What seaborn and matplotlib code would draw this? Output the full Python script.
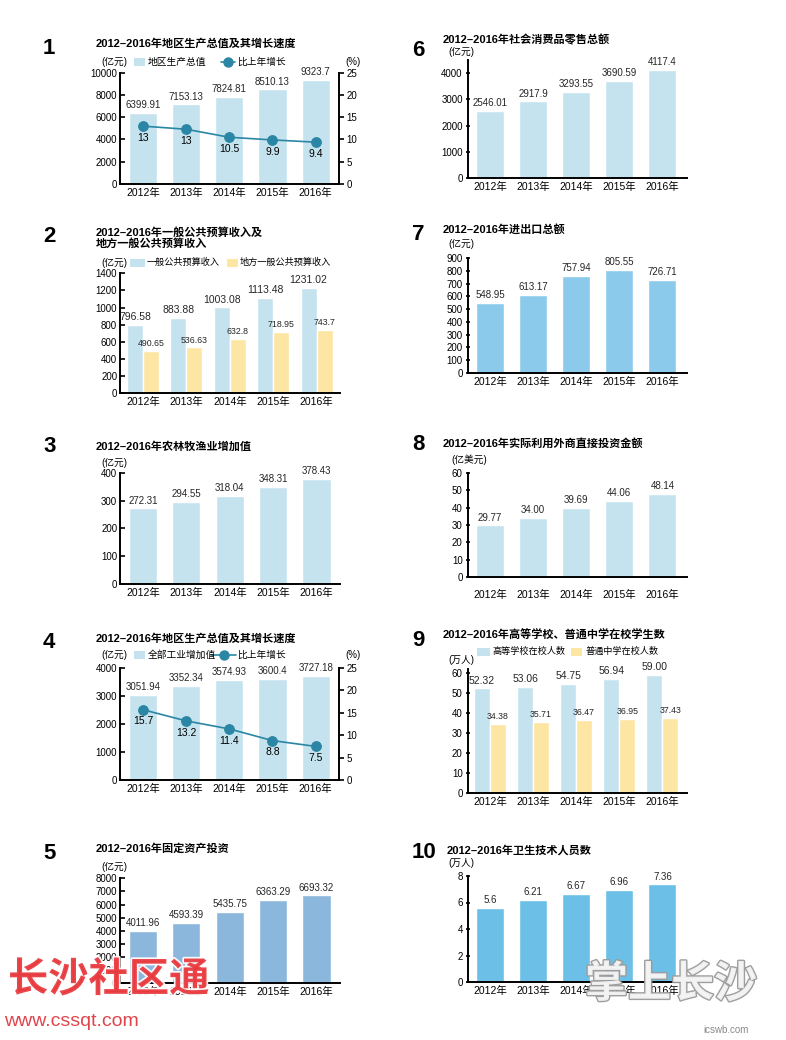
import matplotlib
matplotlib.use('Agg')
import matplotlib.pyplot as plt
import seaborn as sns
import pandas as pd
import numpy as np
from matplotlib.patches import Rectangle
from matplotlib.lines import Line2D
import matplotlib.patheffects as pe

sns.set_theme(style='white')
FAM = ['Liberation Sans', 'Noto Sans CJK SC', 'DejaVu Sans']
plt.rcParams['font.family'] = FAM
plt.rcParams['axes.unicode_minus'] = False

# ---------------- data ----------------
years = ["2012年", "2013年", "2014年", "2015年", "2016年"]
gdp = [6399.91, 7153.13, 7824.81, 8510.13, 9323.7]
gdp_growth = [13.0, 12.3, 10.5, 9.9, 9.4]
gdp_growth_labels = ["13", "13", "10.5", "9.9", "9.4"]
budget_total = [796.58, 883.88, 1003.08, 1113.48, 1231.02]
budget_local = [490.65, 536.63, 632.8, 718.95, 743.7]
agri = [272.31, 294.55, 318.04, 348.31, 378.43]
industry = [3051.94, 3352.34, 3574.93, 3600.4, 3727.18]
industry_growth = [15.7, 13.2, 11.4, 8.8, 7.5]
fixed_invest = [4011.96, 4593.39, 5435.75, 6363.29, 6693.32]
retail = [2546.01, 2917.9, 3293.55, 3690.59, 4117.4]
trade = [548.95, 613.17, 757.94, 805.55, 726.71]
fdi = [29.77, 34.00, 39.69, 44.06, 48.14]
college = [52.32, 53.06, 54.75, 56.94, 59.00]
middle = [34.38, 35.71, 36.47, 36.95, 37.43]
health = [5.6, 6.21, 6.67, 6.96, 7.36]

LIGHT = '#c5e3ee'
YELLOW = '#fde6a4'
LINE = '#2a86a4'
BLUE5 = '#8cb7dd'
BLUE7 = '#8bcaea'
BLUE10 = '#6cc0e7'

W, H = 786, 1040
fig = plt.figure(figsize=(W / 100, H / 100), dpi=100)
fig.patch.set_facecolor('white')


def fx(x):
    return x / W


def fy(y):
    return 1 - y / H


def make_ax(x0, x1, ytop, ybot):
    return fig.add_axes([fx(x0), fy(ybot), (x1 - x0) / W, (ybot - ytop) / H])


def style(ax, ylim, yticks, xlim, ydir='in', xpad=2.5):
    ax.set_ylim(*ylim)
    ax.set_yticks(yticks)
    ax.set_xlim(*xlim)
    for s in ['top', 'right']:
        ax.spines[s].set_visible(False)
    for s in ['left', 'bottom']:
        ax.spines[s].set_color('black')
        ax.spines[s].set_linewidth(1.4)
    ax.tick_params(axis='y', direction=ydir, length=3.5, width=1.2, labelsize=7,
                   pad=2, colors='black', left=True)
    ax.tick_params(axis='x', length=0, labelsize=7.5, pad=xpad, colors='black')
    ax.set_xlabel('')
    ax.set_ylabel('')
    ax.grid(False)
    ax.patch.set_alpha(0)


def ftext(x, y, s, size, ha='left', va='center', weight='normal', **kw):
    fig.text(fx(x), fy(y), s, fontsize=size, ha=ha, va=va, weight=weight,
             family=FAM, color=kw.pop('color', 'black'), **kw)


def leg_patch(x0, x1, yc, h, color):
    fig.add_artist(Rectangle((fx(x0), fy(yc + h / 2)), (x1 - x0) / W, h / H,
                             transform=fig.transFigure, facecolor=color, edgecolor='none'))


def leg_line(x0, x1, yc, color):
    fig.add_artist(Line2D([fx(x0), fx(x1)], [fy(yc), fy(yc)], transform=fig.transFigure,
                          color=color, lw=1.2))
    fig.add_artist(Line2D([fx((x0 + x1) / 2)], [fy(yc)], transform=fig.transFigure,
                          marker='o', ms=6.5, color=color, lw=0))


def header(num, nx, ny, title_lines, tx, ty, line_gap=11):
    ftext(nx, ny, num, 16, weight='bold')
    for i, t in enumerate(title_lines):
        ftext(tx, ty + i * line_gap, t, 8, weight='bold')


XL_L = (-0.53, 4.54)
XL_R = (-0.51, 4.57)
BW = 0.65


def simple_bar(ax, values, color, labels):
    sns.barplot(x=years, y=values, color=color, saturation=1, width=BW, ax=ax)
    ax.bar_label(ax.containers[0], labels=labels, padding=2, fontsize=7)


def fmt(vals, d=None):
    return [f"{v:.{d}f}" if d is not None else f"{v:g}" for v in vals]


def growth_line(ax, values, labels, ylim_right):
    ax2 = ax.twinx()
    sns.lineplot(x=np.arange(len(values)), y=values, ax=ax2, color=LINE, lw=1.2,
                 marker='o', markersize=7, markeredgecolor=LINE)
    ax2.set_ylim(*ylim_right)
    ax2.set_yticks(np.arange(0, 26, 5))
    for s in ['top', 'left', 'bottom']:
        ax2.spines[s].set_visible(False)
    ax2.spines['right'].set_color('black')
    ax2.spines['right'].set_linewidth(1.4)
    ax2.tick_params(axis='y', direction='out', length=3.5, width=1.2, labelsize=7,
                    pad=2, colors='black', right=True)
    ax2.set_ylabel('')
    ax2.grid(False)
    for i, (v, lab) in enumerate(zip(values, labels)):
        ax2.annotate(lab, (i, v), xytext=(0, -8.5), textcoords='offset points',
                     ha='center', va='center', fontsize=7.5, color='black')
    return ax2


# ---------------- Panel 1 ----------------
header("1", 43, 49, ["2012–2016年地区生产总值及其增长速度"], 96, 43)
ftext(101, 62, "(亿元)", 7)
leg_patch(134, 145, 62, 8, LIGHT)
ftext(148, 62, "地区生产总值", 7)
leg_line(221, 235, 62, LINE)
ftext(237, 62, "比上年增长", 7)
ftext(345, 62, "(%)", 7)
ax1 = make_ax(120, 339, 72.7, 184)
simple_bar(ax1, gdp, LIGHT, fmt(gdp))
style(ax1, (0, 10000), np.arange(0, 10001, 2000), XL_L)
growth_line(ax1, gdp_growth, gdp_growth_labels, (0, 25))
ax1.set_xlim(*XL_L)

# ---------------- Panel 2 ----------------
header("2", 43, 236, ["2012–2016年一般公共预算收入及", "地方一般公共预算收入"], 96, 232.5)
ftext(101, 262.7, "(亿元)", 7)
leg_patch(130, 145, 262.7, 8, LIGHT)
ftext(147, 262.7, "一般公共预算收入", 6.6)
leg_patch(227, 238, 262.7, 8, YELLOW)
ftext(240, 262.7, "地方一般公共预算收入", 6.6)
ax2 = make_ax(120, 340, 273.3, 393.3)
df2 = pd.DataFrame({
    'year': years * 2,
    'value': budget_total + budget_local,
    'series': ['一般公共预算收入'] * 5 + ['地方一般公共预算收入'] * 5,
})
sns.barplot(data=df2, x='year', y='value', hue='series', palette=[LIGHT, YELLOW],
            saturation=1, width=0.74, ax=ax2, legend=False)
ax2.bar_label(ax2.containers[0], labels=fmt(budget_total), padding=2, fontsize=7.5)
ax2.bar_label(ax2.containers[1], labels=fmt(budget_local), padding=2, fontsize=6.3)
style(ax2, (0, 1400), np.arange(0, 1401, 200), XL_L)

# ---------------- Panel 3 ----------------
header("3", 43, 446.7, ["2012–2016年农林牧渔业增加值"], 96, 446)
ftext(101, 462.7, "(亿元)", 7)
ax3 = make_ax(120, 340, 472.7, 584.3)
simple_bar(ax3, agri, LIGHT, fmt(agri))
style(ax3, (0, 400), np.arange(0, 401, 100), XL_L)

# ---------------- Panel 4 ----------------
header("4", 43, 642.7, ["2012–2016年地区生产总值及其增长速度"], 96, 638.3)
ftext(101, 655, "(亿元)", 7)
leg_patch(134, 145, 655, 8, LIGHT)
ftext(148, 655, "全部工业增加值", 7)
leg_line(212, 236, 655, LINE)
ftext(237, 655, "比上年增长", 7)
ftext(345, 655, "(%)", 7)
ax4 = make_ax(120, 339, 668, 780)
simple_bar(ax4, industry, LIGHT, fmt(industry))
style(ax4, (0, 4000), np.arange(0, 4001, 1000), XL_L)
growth_line(ax4, industry_growth, fmt(industry_growth), (0, 25))
ax4.set_xlim(*XL_L)

# ---------------- Panel 5 ----------------
header("5", 43, 853.3, ["2012–2016年固定资产投资"], 96, 848.3)
ftext(101, 866.7, "(亿元)", 7)
ax5 = make_ax(120, 340, 878.3, 983.3)
simple_bar(ax5, fixed_invest, BLUE5, fmt(fixed_invest))
style(ax5, (0, 8000), np.arange(0, 8001, 1000), XL_L)

# ---------------- Panel 6 ----------------
header("6", 412, 50, ["2012–2016年社会消费品零售总额"], 443, 39.3)
ftext(448, 51.7, "(亿元)", 7)
ax6 = make_ax(468, 687, 60, 178)
simple_bar(ax6, retail, LIGHT, fmt(retail))
style(ax6, (0, 4500), np.arange(0, 4001, 1000), XL_R, ydir='inout')

# ---------------- Panel 7 ----------------
header("7", 412, 235, ["2012–2016年进出口总额"], 443, 229.3)
ftext(448, 244, "(亿元)", 7)
ax7 = make_ax(468, 687, 258, 373)
simple_bar(ax7, trade, BLUE7, fmt(trade))
style(ax7, (0, 900), np.arange(0, 901, 100), XL_R, ydir='inout')

# ---------------- Panel 8 ----------------
header("8", 412, 445, ["2012–2016年实际利用外商直接投资金额"], 443, 443.3)
ftext(451, 459.3, "(亿美元)", 7)
ax8 = make_ax(468, 687, 473, 577)
simple_bar(ax8, fdi, LIGHT, fmt(fdi, 2))
style(ax8, (0, 60), np.arange(0, 61, 10), XL_R, ydir='inout', xpad=9)

# ---------------- Panel 9 ----------------
header("9", 412, 640, ["2012–2016年高等学校、普通中学在校学生数"], 443, 635)
leg_patch(477, 490, 651.7, 8, LIGHT)
ftext(492, 651.7, "高等学校在校人数", 6.6)
leg_patch(571, 582, 651.7, 8, YELLOW)
ftext(585, 651.7, "普通中学在校人数", 6.6)
ftext(448, 660, "(万人)", 7)
ax9 = make_ax(468, 687, 669, 793)
df9 = pd.DataFrame({
    'year': years * 2,
    'value': college + middle,
    'series': ['高等学校在校人数'] * 5 + ['普通中学在校人数'] * 5,
})
sns.barplot(data=df9, x='year', y='value', hue='series', palette=[LIGHT, YELLOW],
            saturation=1, width=0.74, ax=ax9, legend=False)
ax9.bar_label(ax9.containers[0], labels=fmt(college, 2), padding=2, fontsize=7.5)
ax9.bar_label(ax9.containers[1], labels=fmt(middle, 2), padding=2, fontsize=6.3)
style(ax9, (0, 62), np.arange(0, 61, 10), XL_R, ydir='inout')

# ---------------- Panel 10 ----------------
header("10", 412, 853, ["2012–2016年卫生技术人员数"], 447, 850)
ftext(448, 863, "(万人)", 7)
ax10 = make_ax(468, 687, 876, 982)
simple_bar(ax10, health, BLUE10, fmt(health))
style(ax10, (0, 8), np.arange(0, 9, 2), XL_R, ydir='inout')

# ---------------- watermarks ----------------
fig.text(fx(8), fy(980), "长沙社区通", fontsize=29, weight='bold', color='#e8383d',
         family=['Noto Sans CJK SC'], ha='left', va='center', alpha=0.92,
         path_effects=[pe.withStroke(linewidth=2.5, foreground='white')])
fig.text(fx(4), fy(1021), "www.cssqt.com", fontsize=14, color='#e0454c',
         family=FAM, ha='left', va='center')
fig.text(fx(585), fy(984), "掌上长沙", fontsize=31, weight='bold', color='#f4f4f4',
         family=['Noto Sans CJK SC'], ha='left', va='center', alpha=0.95,
         path_effects=[pe.withStroke(linewidth=2.0, foreground='#9a9a9a')])
fig.text(fx(703), fy(1030), "icswb.com", fontsize=7, color='#8a8a8a',
         family=FAM, ha='left', va='center')

fig.savefig('out.png', dpi=100, facecolor='white')
